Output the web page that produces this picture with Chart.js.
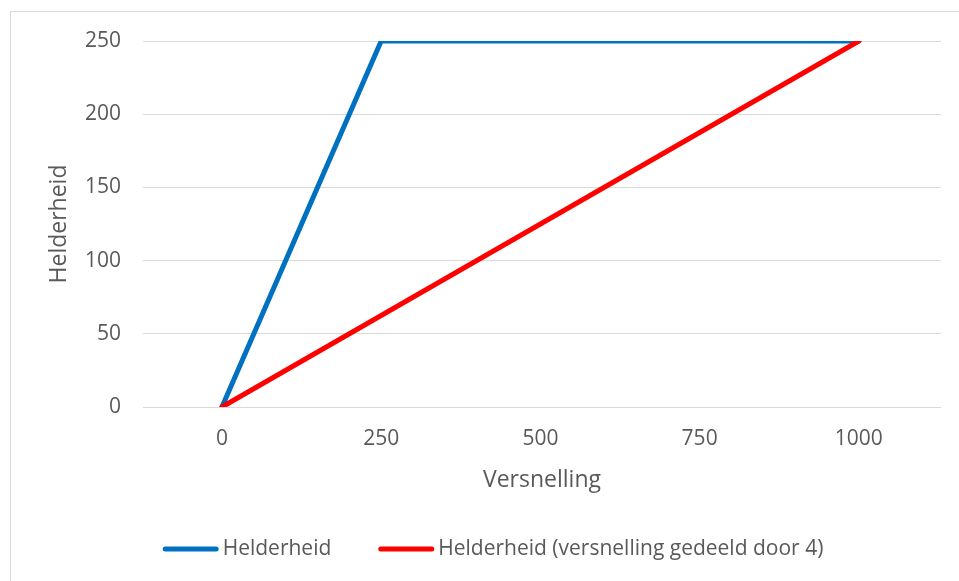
<!DOCTYPE html>
<html>
<head>
<meta charset="utf-8">
<title>Helderheid</title>
<script src="https://cdn.jsdelivr.net/npm/chart.js@4"></script>
<style>
    html, body { margin: 0; padding: 0; background: #ffffff; }
    #wrap { width: 959px; height: 581px; position: relative; }
</style>
</head>
<body>
<div id="wrap"><canvas id="brightnessChart"></canvas></div>
<script>
// Data for the two curves (x = versnelling, y = helderheid)
const helderheidX = [0, 250, 1000];
const helderheidY = [0, 250, 250];
const gedeeldX = [0, 1000];
const gedeeldY = [0, 250];

const xTicks = [0, 250, 500, 750, 1000];
const yTicks = [0, 50, 100, 150, 200, 250];

const seriesNames = ['Helderheid', 'Helderheid (versnelling gedeeld door 4)'];
const seriesColors = ['#0070C0', '#FF0000'];

const textColor = '#595959';
const fontFamily = '"Open Sans", "Liberation Sans", sans-serif';

// White background and a light frame around the whole chart
const framePlugin = {
    id: 'frame',
    beforeDraw(chart) {
        const ctx = chart.ctx;
        ctx.save();
        ctx.fillStyle = '#ffffff';
        ctx.fillRect(0, 0, chart.width, chart.height);
        ctx.strokeStyle = '#d9d9d9';
        ctx.lineWidth = 1;
        ctx.strokeRect(10.5, 11.5, chart.width + 10, chart.height + 10);
        ctx.restore();
    }
};

// Legend drawn as a single centred row: short thick line, then the name
const lineLegendPlugin = {
    id: 'lineLegend',
    afterDraw(chart, args, opts) {
        const ctx = chart.ctx;
        const items = chart.data.datasets;
        ctx.save();
        ctx.font = `${opts.fontSize}px ${fontFamily}`;
        const widths = items.map(ds => opts.lineLength + opts.textGap + ctx.measureText(ds.label).width);
        const total = widths.reduce((a, b) => a + b, 0) + opts.itemGap * (items.length - 1);
        let x = opts.centerX - total / 2;
        const y = chart.chartArea.bottom + opts.offsetY;
        items.forEach((ds, i) => {
            ctx.strokeStyle = ds.borderColor;
            ctx.lineWidth = 5;
            ctx.lineCap = 'round';
            ctx.beginPath();
            ctx.moveTo(x + 2.5, y);
            ctx.lineTo(x + opts.lineLength - 2.5, y);
            ctx.stroke();
            ctx.fillStyle = textColor;
            ctx.textBaseline = 'middle';
            ctx.textAlign = 'left';
            ctx.fillText(ds.label, x + opts.lineLength + opts.textGap, y);
            x += widths[i] + opts.itemGap;
        });
        ctx.restore();
    }
};

function toPoints(xs, ys) {
    return xs.map((x, i) => ({ x: x, y: ys[i] }));
}

const ctx = document.getElementById('brightnessChart').getContext('2d');
const myChart = new Chart(ctx, {
    type: 'scatter',
    data: {
        datasets: [
            {
                label: seriesNames[0],
                data: toPoints(helderheidX, helderheidY),
                borderColor: seriesColors[0],
                backgroundColor: seriesColors[0],
                order: 1
            },
            {
                label: seriesNames[1],
                data: toPoints(gedeeldX, gedeeldY),
                borderColor: seriesColors[1],
                backgroundColor: seriesColors[1],
                order: 0
            }
        ].map(ds => Object.assign(ds, {
            showLine: true,
            borderWidth: 5,
            borderCapStyle: 'round',
            borderJoinStyle: 'miter',
            pointRadius: 0,
            pointHoverRadius: 0,
            tension: 0
        }))
    },
    options: {
        responsive: true,
        maintainAspectRatio: false,
        animation: false,
        layout: {
            padding: { top: 41, right: 18, bottom: 80, left: 10 }
        },
        plugins: {
            tooltip: { enabled: false },
            legend: { display: false },
            lineLegend: {
                fontSize: 21,
                lineLength: 56,
                textGap: 4,
                itemGap: 47,
                centerX: 493,
                offsetY: 142
            }
        },
        scales: {
            x: {
                type: 'linear',
                min: -124,
                max: 1129,
                afterBuildTicks: scale => {
                    scale.ticks = xTicks.map(v => ({ value: v }));
                },
                afterFit: scale => { scale.height = 94; },
                grid: { display: false },
                border: { display: false },
                ticks: {
                    color: textColor,
                    font: { family: fontFamily, size: 21 },
                    padding: 11,
                    maxRotation: 0,
                    callback: value => String(value)
                },
                title: {
                    display: true,
                    text: 'Versnelling',
                    color: textColor,
                    font: { family: fontFamily, size: 23 },
                    padding: { top: 4, bottom: 7 }
                }
            },
            y: {
                min: 0,
                max: 250,
                afterBuildTicks: scale => {
                    scale.ticks = yTicks.map(v => ({ value: v }));
                },
                afterFit: scale => { scale.width = 133; },
                grid: { color: '#d9d9d9', lineWidth: 1, drawTicks: false },
                border: { display: false },
                ticks: {
                    color: textColor,
                    font: { family: fontFamily, size: 21 },
                    padding: 22
                },
                title: {
                    display: true,
                    text: 'Helderheid',
                    color: textColor,
                    font: { family: fontFamily, size: 23 },
                    padding: { top: 36, bottom: 0 }
                }
            }
        }
    },
    plugins: [framePlugin, lineLegendPlugin]
});
</script>
</body>
</html>
